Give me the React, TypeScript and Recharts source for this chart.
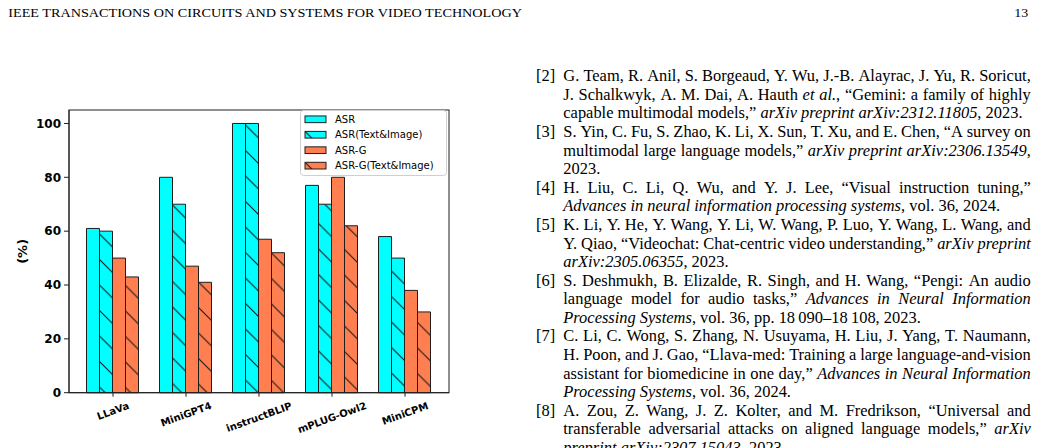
import React from 'react';
import * as RC from 'recharts';
import { BarChart, Bar, XAxis, YAxis, Legend } from 'recharts';

// ---------- chart data ----------
const models = ['LLaVa', 'MiniGPT4', 'instructBLIP', 'mPLUG-Owl2', 'MiniCPM'];
const asr = [61, 80, 100, 77, 58];
const asrTextImage = [60, 70, 100, 70, 50];
const asrG = [50, 47, 57, 80, 38];
const asrGTextImage = [43, 41, 52, 62, 30];
const yTicks = [0, 20, 40, 60, 80, 100];
const seriesNames = ['ASR', 'ASR(Text&Image)', 'ASR-G', 'ASR-G(Text&Image)'];
const yLabel = '(%)';

// ---------- page text ----------
const headerTitle = 'IEEE TRANSACTIONS ON CIRCUITS AND SYSTEMS FOR VIDEO TECHNOLOGY';
const pageNumber = '13';
type Seg = [string, number];
type RefLine = { label?: string; segs: Seg[]; last?: boolean };
const refLines: RefLine[] = [
  { label: '[2]', segs: [['G. Team, R. Anil, S. Borgeaud, Y. Wu, J.-B. Alayrac, J. Yu, R. Soricut,', 0]] },
  { segs: [['J. Schalkwyk, A. M. Dai, A. Hauth ', 0], ['et al.', 1], [', \u201CGemini: a family of highly', 0]] },
  { segs: [['capable multimodal models,\u201D ', 0], ['arXiv preprint arXiv:2312.11805', 1], [', 2023.', 0]], last: true },
  { label: '[3]', segs: [['S. Yin, C. Fu, S. Zhao, K. Li, X. Sun, T. Xu, and E. Chen, \u201CA survey on', 0]] },
  { segs: [['multimodal large language models,\u201D ', 0], ['arXiv preprint arXiv:2306.13549', 1], [',', 0]] },
  { segs: [['2023.', 0]], last: true },
  { label: '[4]', segs: [['H. Liu, C. Li, Q. Wu, and Y. J. Lee, \u201CVisual instruction tuning,\u201D', 0]] },
  { segs: [['Advances in neural information processing systems', 1], [', vol. 36, 2024.', 0]], last: true },
  { label: '[5]', segs: [['K. Li, Y. He, Y. Wang, Y. Li, W. Wang, P. Luo, Y. Wang, L. Wang, and', 0]] },
  { segs: [['Y. Qiao, \u201CVideochat: Chat-centric video understanding,\u201D ', 0], ['arXiv preprint', 1]] },
  { segs: [['arXiv:2305.06355', 1], [', 2023.', 0]], last: true },
  { label: '[6]', segs: [['S. Deshmukh, B. Elizalde, R. Singh, and H. Wang, \u201CPengi: An audio', 0]] },
  { segs: [['language model for audio tasks,\u201D ', 0], ['Advances in Neural Information', 1]] },
  { segs: [['Processing Systems', 1], [', vol. 36, pp. 18\u2009090\u201318\u2009108, 2023.', 0]], last: true },
  { label: '[7]', segs: [['C. Li, C. Wong, S. Zhang, N. Usuyama, H. Liu, J. Yang, T. Naumann,', 0]] },
  { segs: [['H. Poon, and J. Gao, \u201CLlava-med: Training a large language-and-vision', 0]] },
  { segs: [['assistant for biomedicine in one day,\u201D ', 0], ['Advances in Neural Information', 1]] },
  { segs: [['Processing Systems', 1], [', vol. 36, 2024.', 0]], last: true },
  { label: '[8]', segs: [['A. Zou, Z. Wang, J. Z. Kolter, and M. Fredrikson, \u201CUniversal and', 0]] },
  { segs: [['transferable adversarial attacks on aligned language models,\u201D ', 0], ['arXiv', 1]] },
  { segs: [['preprint arXiv:2307.15043', 1], [', 2023.', 0]], last: true },
];

const data = models.map((m, i) => ({
  model: m,
  asr: asr[i],
  asrTI: asrTextImage[i],
  asrG: asrG[i],
  asrGTI: asrGTextImage[i],
}));

const CYAN = '#00FFFF';
const CORAL = '#FF7F50';
const EDGE = '#1e1e1e';
const fills = [CYAN, 'url(#hatchCyan)', CORAL, 'url(#hatchCoral)'];
const legendFills = [CYAN, 'url(#lgHatchCyan)', CORAL, 'url(#lgHatchCoral)'];

let ctx: CanvasRenderingContext2D | null = null;
function measure(text: string, font: string): number {
  if (!ctx) ctx = document.createElement('canvas').getContext('2d');
  if (!ctx) return text.length * 6;
  ctx.font = font;
  return ctx.measureText(text).width;
}

const S = 25.5;
function Hatch({ id, color, x = 0, y = 7 }: { id: string; color: string; x?: number; y?: number }) {
  return (
    <pattern id={id} patternUnits="userSpaceOnUse" x={x} y={y} width={S} height={S}>
      <rect width={S} height={S} fill={color} />
      <path
        d={`M0,0 L${S},${S} M-2,${S - 2} L2,${S + 2} M${S - 2},-2 L${S + 2},2`}
        stroke="#111"
        strokeWidth={1}
      />
    </pattern>
  );
}

const usePlotAreaHook: any = (RC as any).usePlotArea;
function Frame() {
  const area = usePlotAreaHook ? usePlotAreaHook() : null;
  if (!area) return null;
  return (
    <rect
      x={area.x}
      y={area.y}
      width={area.width}
      height={area.height}
      fill="none"
      stroke={EDGE}
      strokeWidth={1}
    />
  );
}

const XTick = (props: any) => {
  const { x, y, payload } = props;
  const font = "bold 10px 'DejaVu Sans'";
  const w = measure(String(payload.value), font);
  const cy = y + 3 + (w * Math.sin((20 * Math.PI) / 180) + 7) / 2;
  return (
    <text
      x={x}
      y={cy}
      textAnchor="middle"
      dominantBaseline="central"
      transform={`rotate(-20 ${x} ${cy})`}
      fontFamily="'DejaVu Sans'"
      fontWeight="bold"
      fontSize={10}
      fill="#000"
    >
      {payload.value}
    </text>
  );
};

const YLabel = (props: any) => {
  const vb = props.viewBox || { x: 0, y: 110, width: 69, height: 282.7 };
  const cx = 22.5;
  const cy = vb.y + vb.height / 2;
  return (
    <text
      x={cx}
      y={cy}
      textAnchor="middle"
      dominantBaseline="central"
      transform={`rotate(-90 ${cx} ${cy})`}
      fontFamily="'DejaVu Sans'"
      fontWeight="bold"
      fontSize={13}
      fill="#000"
    >
      {yLabel}
    </text>
  );
};

const LegendBox = (props: any) => {
  const payload = props.payload || [];
  const rowH = 15.45;
  const first = 9.3;
  const ph = 6.7;
  return (
    <svg width={147} height={66} style={{ display: 'block', overflow: 'visible' }}>
      <defs>
        <Hatch id="lgHatchCyan" color={CYAN} x={0} y={0} />
        <Hatch id="lgHatchCoral" color={CORAL} x={0} y={0} />
      </defs>
      <rect x={0.5} y={0.5} width={146} height={65} rx={3} fill="rgba(255,255,255,0.85)" stroke="#cfcfcf" />
      {payload.map((p: any, i: number) => {
        const cy = first + i * rowH;
        return (
          <g key={i}>
            <svg x={5} y={cy - ph / 2} width={21} height={ph} overflow="visible">
              <rect x={0} y={0} width={21} height={ph} fill={legendFills[i]} stroke={EDGE} strokeWidth={1} />
            </svg>
            <text
              x={35}
              y={cy}
              dominantBaseline="central"
              fontFamily="'DejaVu Sans'"
              fontSize={10}
              fill="#000"
            >
              {p.value}
            </text>
          </g>
        );
      })}
    </svg>
  );
};

// ---------- page text rendering ----------
type Piece = { t: string; i: number };
function lineWords(segs: Seg[]): Piece[][] {
  const words: Piece[][] = [[]];
  segs.forEach(([text, it]) => {
    const parts = text.split(' ');
    parts.forEach((p, k) => {
      if (k > 0) words.push([]);
      if (p.length) words[words.length - 1].push({ t: p, i: it });
    });
  });
  return words.filter((w) => w.length > 0);
}

const SERIF = "'Liberation Serif'";
function PageText() {
  const calib = 100;
  const fontOf = (it: number, size: number) => `${it ? 'italic ' : ''}${size}px ${SERIF}`;
  const line2 = refLines[2].segs;
  let w100 = 0;
  line2.forEach(([t, it]) => (w100 += measure(t, fontOf(it, calib))));
  const fs = Math.max(10, Math.min(18, (calib * 459.7) / (w100 || 1)));
  const x0 = 563.3;
  const x1 = 1030.8;
  const base0 = 81.3;
  const lh = 18.58;
  const spaceW = measure(' ', fontOf(0, fs));

  return (
    <svg width={1037} height={448} style={{ position: 'absolute', left: 0, top: 0 }}>
      <text
        x={8.3}
        y={16.7}
        fontFamily={SERIF}
        fontSize={11.5}
        textLength={513.7}
        lengthAdjust="spacingAndGlyphs"
        fill="#000"
      >
        {headerTitle}
      </text>
      <text x={1014.3} y={16.7} fontFamily={SERIF} fontSize={11.5} textLength={14} lengthAdjust="spacingAndGlyphs" fill="#000">
        {pageNumber}
      </text>
      {refLines.map((ln, li) => {
        const y = base0 + li * lh;
        const words = lineWords(ln.segs);
        const widths = words.map((w) => w.reduce((s, p) => s + measure(p.t, fontOf(p.i, fs)), 0));
        const total = widths.reduce((a, b) => a + b, 0);
        const gap = ln.last || words.length < 2 ? spaceW : (x1 - x0 - total) / (words.length - 1);
        let cx = x0;
        const tspans: any[] = [];
        words.forEach((w, wi) => {
          w.forEach((p, pi) => {
            tspans.push(
              <tspan
                key={`${wi}-${pi}`}
                x={pi === 0 ? cx : undefined}
                fontStyle={p.i ? 'italic' : 'normal'}
              >
                {p.t}
              </tspan>
            );
          });
          cx += widths[wi] + gap;
        });
        return (
          <g key={li}>
            {ln.label && (
              <text x={536} y={y} fontFamily={SERIF} fontSize={fs} fill="#000">
                {ln.label}
              </text>
            )}
            <text y={y} fontFamily={SERIF} fontSize={fs} fill="#000">
              {tspans}
            </text>
          </g>
        );
      })}
    </svg>
  );
}

export default function App() {
  return (
    <div
      style={{
        position: 'absolute',
        left: 0,
        top: 0,
        width: 1037,
        height: 448,
        overflow: 'hidden',
        background: '#fff',
      }}
    >
      <svg width={0} height={0} style={{ position: 'absolute' }}>
        <defs>
          <Hatch id="hatchCyan" color={CYAN} />
          <Hatch id="hatchCoral" color={CORAL} />
        </defs>
      </svg>
      <PageText />
      <div style={{ position: 'absolute', left: 0, top: 0, width: 500, height: 448 }}>
        <BarChart
          width={500}
          height={448}
          data={data}
          margin={{ top: 110, right: 51, left: 0, bottom: 0 }}
          barCategoryGap={10}
          barGap={0}
        >
          <XAxis
            dataKey="model"
            height={55.3}
            padding={{ left: 7.5, right: 7.5 }}
            stroke={EDGE}
            tickSize={4}
            tickMargin={2}
            interval={0}
            tick={(p: any) => <XTick {...p} />}
          />
          <YAxis
            type="number"
            domain={[0, 105]}
            ticks={yTicks}
            width={69}
            stroke={EDGE}
            tickSize={5}
            tickMargin={3}
            interval={0}
            tick={{ fontFamily: "'DejaVu Sans'", fontWeight: 'bold', fontSize: 12, fill: '#000' }}
            label={(p: any) => <YLabel {...p} />}
          />
          <Legend
            layout="vertical"
            align="center"
            verticalAlign="middle"
            wrapperStyle={{ left: 300, top: 110, width: 147, height: 66 }}
            content={(p: any) => <LegendBox {...p} />}
          />
          <Bar dataKey="asr" name={seriesNames[0]} fill={fills[0]} stroke={EDGE} strokeWidth={1} isAnimationActive={false} />
          <Bar dataKey="asrTI" name={seriesNames[1]} fill={fills[1]} stroke={EDGE} strokeWidth={1} isAnimationActive={false} />
          <Bar dataKey="asrG" name={seriesNames[2]} fill={fills[2]} stroke={EDGE} strokeWidth={1} isAnimationActive={false} />
          <Bar dataKey="asrGTI" name={seriesNames[3]} fill={fills[3]} stroke={EDGE} strokeWidth={1} isAnimationActive={false} />
          <Frame />
        </BarChart>
      </div>
    </div>
  );
}
